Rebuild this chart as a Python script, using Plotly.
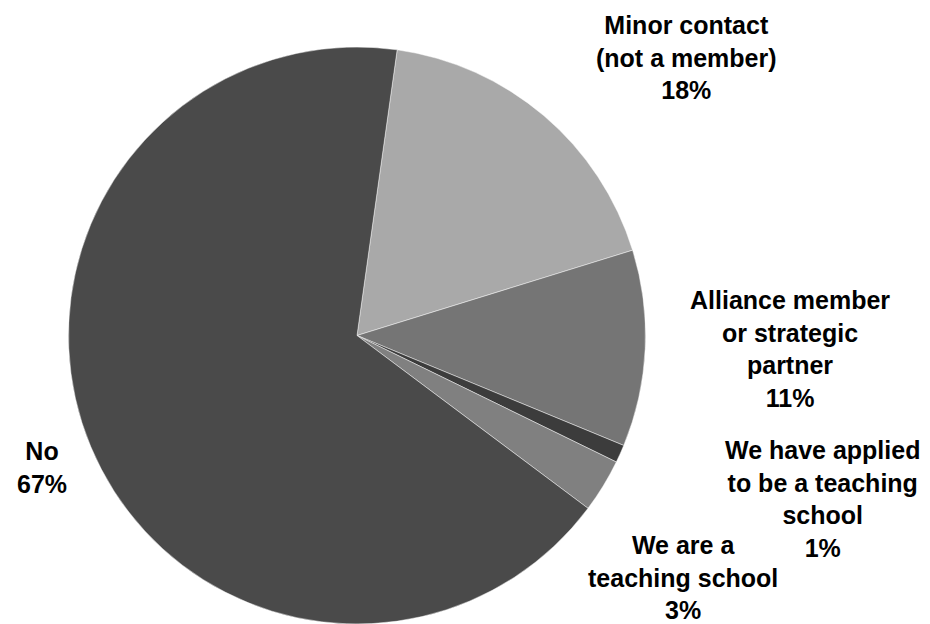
import plotly.graph_objects as go

# Survey responses: relationship with a teaching school alliance
categories = [
    "Minor contact<br>(not a member)",
    "Alliance member<br>or strategic<br>partner",
    "We have applied<br>to be a teaching<br>school",
    "We are a<br>teaching school",
    "No",
]
shares = [18, 11, 1, 3, 67]
slice_colors = ["#a9a9a9", "#757575", "#3c3c3c", "#808080", "#4a4a4a"]

# label anchor points (pixels in a 930x624 canvas)
label_xy = [(686, 57), (790, 349), (822, 499), (683, 577), (42, 467)]

W, H = 930, 624

fig = go.Figure(
    go.Pie(
        labels=categories,
        values=shares,
        sort=False,
        direction="clockwise",
        rotation=8,
        textinfo="none",
        hoverinfo="label+percent",
        marker=dict(colors=slice_colors,
                    line=dict(color="rgba(255,255,255,0.45)", width=1)),
        domain=dict(x=[67 / W, 647 / W], y=[0, 1 - 47 / H]),
        showlegend=False,
    )
)

for cat, val, (px, py) in zip(categories, shares, label_xy):
    fig.add_annotation(
        x=px / W, y=1 - py / H, xref="paper", yref="paper",
        text=f"<b>{cat}<br>{val}%</b>",
        showarrow=False, xanchor="center", yanchor="middle", align="center",
        font=dict(family="Liberation Sans, Arial, sans-serif", size=25, color="#000000"),
    )

fig.update_layout(
    width=W, height=H,
    margin=dict(l=0, r=0, t=0, b=0),
    paper_bgcolor="white", plot_bgcolor="white",
)

fig.write_html("out.html")
